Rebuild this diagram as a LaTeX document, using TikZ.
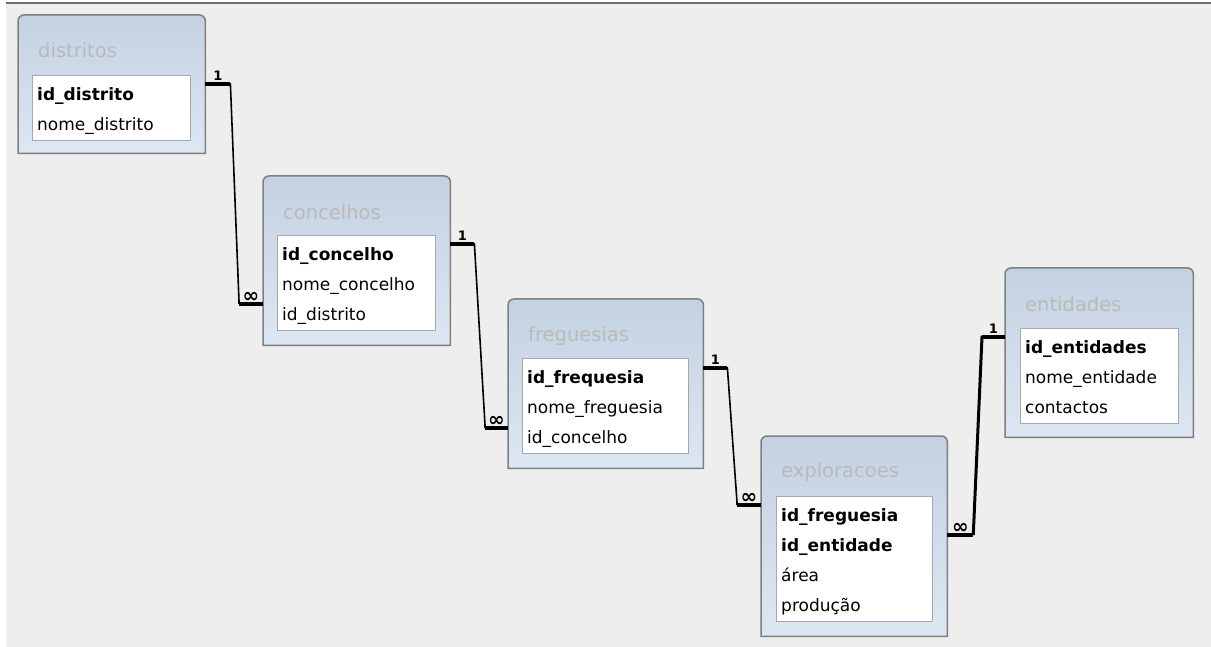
\documentclass[tikz,border=0pt]{standalone}
\usepackage{fontspec}
\setmainfont{DejaVu Sans}
\usepackage{tikz}
\usetikzlibrary{positioning}
\definecolor{canvas}{HTML}{EEEEEE}
\definecolor{topline}{HTML}{6E6E6E}
\definecolor{boxtop}{HTML}{C3D1E1}
\definecolor{boxbot}{HTML}{DDE7F3}
\definecolor{boxline}{HTML}{7F7F7F}
\definecolor{fieldline}{HTML}{A8A8A8}
\definecolor{titlegray}{HTML}{BABABA}
\tikzset{
  tablebox/.style  = {anchor=north west, inner sep=0pt, draw=none},
  tabletitle/.style= {anchor=west, inner sep=0pt, text=titlegray,
                      font=\fontsize{19.5}{22}\selectfont},
  fieldbox/.style  = {anchor=north west, draw=fieldline, fill=white,
                      align=left, inner xsep=5pt, inner ysep=2.5pt,
                      font=\fontsize{17}{30}\selectfont},
  relline/.style   = {-, line width=1.6pt, black},
  relstub/.style   = {-, line width=4pt, black},
  onemark/.style   = {above, inner sep=1.5pt, font=\bfseries\fontsize{13}{14}\selectfont},
  manymark/.style  = {above, inner sep=0pt, font=\bfseries\fontsize{20}{20}\selectfont},
}
\newcommand{\fld}[1]{\rule[-7.5pt]{0pt}{30pt}#1}
\newcommand{\keyfld}[1]{\fld{\textbf{#1}}}
\newcommand{\tableframe}[1]{%
  \shade[top color=boxtop, bottom color=boxbot, draw=boxline, line width=1.5pt]
    (#1.south west) -- ([yshift=-6pt]#1.north west)
    arc[start angle=180, end angle=90, radius=6pt]
    -- ([xshift=-6pt]#1.north east)
    arc[start angle=90, end angle=0, radius=6pt]
    -- (#1.south east) -- cycle;}

\begin{document}
\begin{tikzpicture}[x=1pt, y=1pt]
  \useasboundingbox (0,0) rectangle (1211,-647);
  \fill[canvas] (6,-4) rectangle (1211,-647);
  \draw[topline, line width=2pt] (6,-3.5) -- (1211,-3.5);

  % distritos
  \node[tablebox, minimum width=187pt, minimum height=138pt] (dist) at (18,-15) {};
  \tableframe{dist}
  \node[tabletitle] (distt) at ([xshift=20pt, yshift=-35pt]dist.north west) {distritos};
  \node[fieldbox, text width=148pt] (distf) at ([xshift=14pt, yshift=-60pt]dist.north west)
    {\keyfld{id\_distrito}\\\fld{nome\_distrito}};

  % concelhos
  \node[tablebox, minimum width=187pt, minimum height=169pt] (conc) at (263,-176) {};
  \tableframe{conc}
  \node[tabletitle] (conct) at ([xshift=20pt, yshift=-36pt]conc.north west) {concelhos};
  \node[fieldbox, text width=148pt] (concf) at ([xshift=14pt, yshift=-59pt]conc.north west)
    {\keyfld{id\_concelho}\\\fld{nome\_concelho}\\\fld{id\_distrito}};

  % freguesias
  \node[tablebox, minimum width=195pt, minimum height=169pt] (freg) at (508,-299) {};
  \tableframe{freg}
  \node[tabletitle] (fregt) at ([xshift=20pt, yshift=-37pt]freg.north west) {freguesias};
  \node[fieldbox, text width=156pt] (fregf) at ([xshift=14pt, yshift=-59pt]freg.north west)
    {\keyfld{id\_frequesia}\\\fld{nome\_freguesia}\\\fld{id\_concelho}};

  % exploracoes
  \node[tablebox, minimum width=186pt, minimum height=200pt] (expl) at (761,-436) {};
  \tableframe{expl}
  \node[tabletitle] (explt) at ([xshift=20pt, yshift=-36pt]expl.north west) {exploracoes};
  \node[fieldbox, text width=146pt] (explf) at ([xshift=15pt, yshift=-60pt]expl.north west)
    {\keyfld{id\_freguesia}\\\keyfld{id\_entidade}\\\fld{área}\\\fld{produção}};

  % entidades
  \node[tablebox, minimum width=188pt, minimum height=169pt] (enti) at (1005,-268) {};
  \tableframe{enti}
  \node[tabletitle] (entit) at ([xshift=20pt, yshift=-36pt]enti.north west) {entidades};
  \node[fieldbox, text width=148pt] (entif) at ([xshift=15pt, yshift=-60pt]enti.north west)
    {\keyfld{id\_entidades}\\\fld{nome\_entidade}\\\fld{contactos}};

  % relationships
  \draw[relline] ([yshift=-69pt]dist.north east) -- ++(25,0)
    -- ([xshift=-24pt, yshift=3pt]conc.north west |- 0,-304) -- ([xshift=-24pt]conc.north west |- 0,-304);
  \draw[relstub] ([yshift=-69pt]dist.north east) -- node[onemark] {1} ++(25,0);
  \draw[relstub] ([yshift=-128pt]conc.north west) -- node[manymark] {∞} ++(-24,0);

  \draw[relline] ([yshift=-68pt]conc.north east) -- ++(24,0)
    -- ([xshift=-23pt, yshift=3pt]freg.north west |- 0,-428) -- ([xshift=-23pt]freg.north west |- 0,-428);
  \draw[relstub] ([yshift=-68pt]conc.north east) -- node[onemark] {1} ++(24,0);
  \draw[relstub] ([yshift=-129pt]freg.north west) -- node[manymark] {∞} ++(-23,0);

  \draw[relline] ([yshift=-69pt]freg.north east) -- ++(24,0)
    -- ([xshift=-24pt, yshift=3pt]expl.north west |- 0,-505) -- ([xshift=-24pt]expl.north west |- 0,-505);
  \draw[relstub] ([yshift=-69pt]freg.north east) -- node[onemark] {1} ++(24,0);
  \draw[relstub] ([yshift=-69pt]expl.north west) -- node[manymark] {∞} ++(-24,0);

  \draw[relline, line width=3pt] ([yshift=-69pt]enti.north west) -- ++(-23,0)
    -- ([xshift=26pt, yshift=3pt]expl.north east |- 0,-535) -- ([xshift=26pt]expl.north east |- 0,-535);
  \draw[relstub] ([yshift=-69pt]enti.north west) -- node[onemark] {1} ++(-23,0);
  \draw[relstub] ([yshift=-99pt]expl.north east) -- node[manymark] {∞} ++(26,0);
\end{tikzpicture}
\end{document}
